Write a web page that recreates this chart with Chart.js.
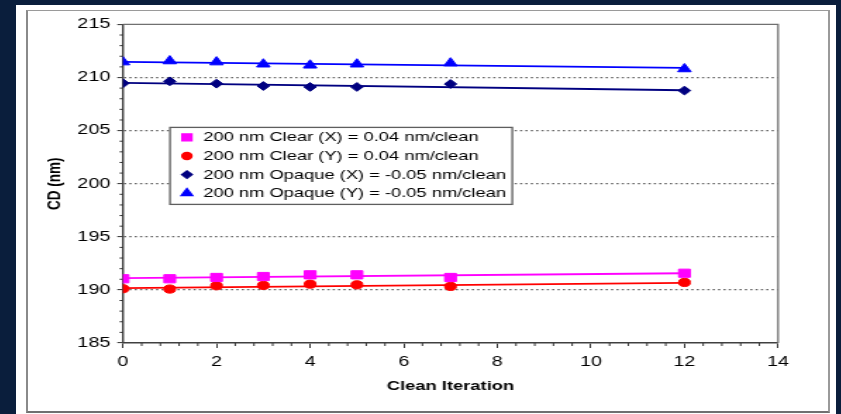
<!DOCTYPE html>
<html>
<head>
<meta charset="utf-8">
<script src="https://cdn.jsdelivr.net/npm/chart.js@4.4.1/dist/chart.umd.min.js"></script>
<style>
  html, body { margin: 0; padding: 0; }
  body { width: 841px; height: 414px; background: #0a1e3c; position: relative; overflow: hidden; }
  #sheet { position: absolute; left: 16px; top: 5px; width: 820px; height: 409px; background: #fff; }
  #frame { position: absolute; left: 26px; top: 10px; width: 804px; height: 403px; box-sizing: border-box;
           border: 1px solid #9a9a9a; border-left: 2px solid #8a8a8a; border-right: 2px solid #9a9a9a; border-bottom: 2px solid #707070; }
  /* the source picture is stretched sideways, so the chart is drawn narrow and scaled */
  #wrap { position: absolute; left: 29px; top: 11px; width: 568px; height: 399px;
          transform: scaleX(1.4085); transform-origin: 0 0; }
</style>
</head>
<body>
<div id="sheet"></div>
<div id="frame"></div>
<div id="wrap"><canvas id="cd" width="568" height="399"></canvas></div>
<script>
const iterations = [0, 1, 2, 3, 4, 5, 7, 12];
const clearX  = [191.05, 191.05, 191.17, 191.26, 191.42, 191.42, 191.17, 191.57];
const clearY  = [190.11, 190.08, 190.39, 190.42, 190.54, 190.48, 190.33, 190.70];
const opaqueX = [209.46, 209.64, 209.42, 209.20, 209.11, 209.11, 209.39, 208.77];
const opaqueY = [211.45, 211.55, 211.45, 211.25, 211.15, 211.25, 211.35, 210.80];

// linear fit lines, read at both ends
const fitX = [0, 12];
const clearXFit  = [191.10, 191.57];
const clearYFit  = [190.17, 190.67];
const opaqueXFit = [209.49, 208.80];
const opaqueYFit = [211.47, 210.90];

const seriesLabels = [
    '200 nm Clear (X) = 0.04 nm/clean',
    '200 nm Clear (Y) = 0.04 nm/clean',
    '200 nm Opaque (X) = -0.05 nm/clean',
    '200 nm Opaque (Y) = -0.05 nm/clean'
];
const xTickValues = [0, 2, 4, 6, 8, 10, 12, 14];
const yTickValues = [185, 190, 195, 200, 205, 210, 215];

const colors = ['#ff00ff', '#ff0000', '#000080', '#0000ff'];
const styles = ['rect', 'circle', 'rectRot', 'triangle'];
const radii = [5.8, 4.1, 4.4, 5.5];

const toXY = (xs, ys) => xs.map((x, i) => ({ x: x, y: ys[i] }));

const markerSets = [clearX, clearY, opaqueX, opaqueY].map((ys, i) => ({
    label: seriesLabels[i],
    data: toXY(iterations, ys),
    showLine: false,
    pointStyle: styles[i],
    pointRadius: radii[i],
    pointBackgroundColor: colors[i],
    pointBorderColor: colors[i],
    pointBorderWidth: 1,
    order: 1
}));
const fitSets = [clearXFit, clearYFit, opaqueXFit, opaqueYFit].map((ys, i) => ({
    label: 'fit',
    data: toXY(fitX, ys),
    showLine: true,
    borderColor: colors[i],
    borderWidth: 1.8,
    pointRadius: 0,
    order: 2
}));

const font = "'Liberation Sans', Arial, sans-serif";

// plot frame, minor ticks and the boxed legend inside the plot
const decor = {
    id: 'decor',
    beforeDatasetsDraw(chart) {
        const { ctx, chartArea: a, scales } = chart;
        ctx.save();
        ctx.strokeStyle = '#707070';
        ctx.lineWidth = 1.3;
        ctx.beginPath();
        ctx.moveTo(a.left, a.top);
        ctx.lineTo(a.right, a.top);
        ctx.lineTo(a.right, a.bottom);
        ctx.stroke();

        ctx.strokeStyle = '#333';
        ctx.lineWidth = 1;
        ctx.beginPath();
        for (let v = 186; v < 215; v++) {
            if (v % 5 === 0) continue;
            const y = scales.y.getPixelForValue(v);
            ctx.moveTo(a.left - 2.4, y);
            ctx.lineTo(a.left, y);
        }
        for (let k = 1; k < 35; k++) {
            if (k % 5 === 0) continue;
            const x = scales.x.getPixelForValue(k * 0.4);
            ctx.moveTo(x, a.bottom);
            ctx.lineTo(x, a.bottom + 3);
        }
        ctx.stroke();
        ctx.restore();
    },
    afterDatasetsDraw(chart) {
        const { ctx, chartArea: a } = chart;
        const bx = a.left + 33.4, by = a.top + 103, bw = 243, bh = 77;
        ctx.save();
        ctx.fillStyle = '#fff';
        ctx.fillRect(bx, by, bw, bh);
        ctx.strokeStyle = '#5e5e5e';
        ctx.lineWidth = 1.3;
        ctx.strokeRect(bx, by, bw, bh);
        ctx.font = '13px ' + font;
        ctx.textBaseline = 'middle';
        ctx.textAlign = 'left';
        seriesLabels.forEach((label, i) => {
            const y = by + 10 + i * 18.6;
            ctx.fillStyle = colors[i];
            ctx.strokeStyle = colors[i];
            Chart.helpers.drawPoint(ctx, {
                pointStyle: styles[i], radius: radii[i] * 0.85, rotation: 0, borderWidth: 1
            }, bx + 12, y);
            ctx.fillStyle = '#000';
            ctx.fillText(label, bx + 23.6, y + 0.5);
        });
        ctx.restore();
    }
};

new Chart(document.getElementById('cd'), {
    type: 'scatter',
    data: { datasets: markerSets.concat(fitSets) },
    options: {
        responsive: false,
        animation: false,
        devicePixelRatio: 1,
        layout: { padding: { top: 11, right: 36.2, left: 0, bottom: 0 } },
        plugins: { legend: { display: false }, tooltip: { enabled: false } },
        scales: {
            x: {
                type: 'linear',
                min: 0,
                max: 14,
                afterBuildTicks: s => { s.ticks = xTickValues.map(v => ({ value: v })); },
                afterFit: s => { s.height = 67; },
                grid: { drawOnChartArea: false, drawTicks: true, tickLength: 5, tickColor: '#333', tickWidth: 1 },
                border: { color: '#404040', width: 1.6 },
                ticks: { color: '#000', padding: 6, maxRotation: 0, font: { family: font, size: 14 } },
                title: {
                    display: true, text: 'Clean Iteration', color: '#000',
                    font: { family: font, size: 13, weight: 'bold' }, padding: { top: 0, bottom: 16 }
                }
            },
            y: {
                type: 'linear',
                min: 185,
                max: 215,
                afterBuildTicks: s => { s.ticks = yTickValues.map(v => ({ value: v })); },
                afterFit: s => { s.width = 66.7; },
                grid: {
                    color: c => (c.tick && (c.tick.value === 185 || c.tick.value === 215)) ? 'rgba(0,0,0,0)' : '#666',
                    lineWidth: 1.2,
                    drawTicks: true, tickLength: 4, tickColor: '#333', tickWidth: 1, tickBorderDash: []
                },
                border: { color: '#404040', width: 1.4, dash: [1.6, 2.2] },
                ticks: { color: '#000', padding: 5, font: { family: font, size: 14 } },
                title: {
                    display: true, text: 'CD (nm)', color: '#000',
                    font: { family: font, size: 13.5, weight: 'bold' }, padding: { top: 10.5, bottom: 0 }
                }
            }
        }
    },
    plugins: [decor]
});
</script>
</body>
</html>
